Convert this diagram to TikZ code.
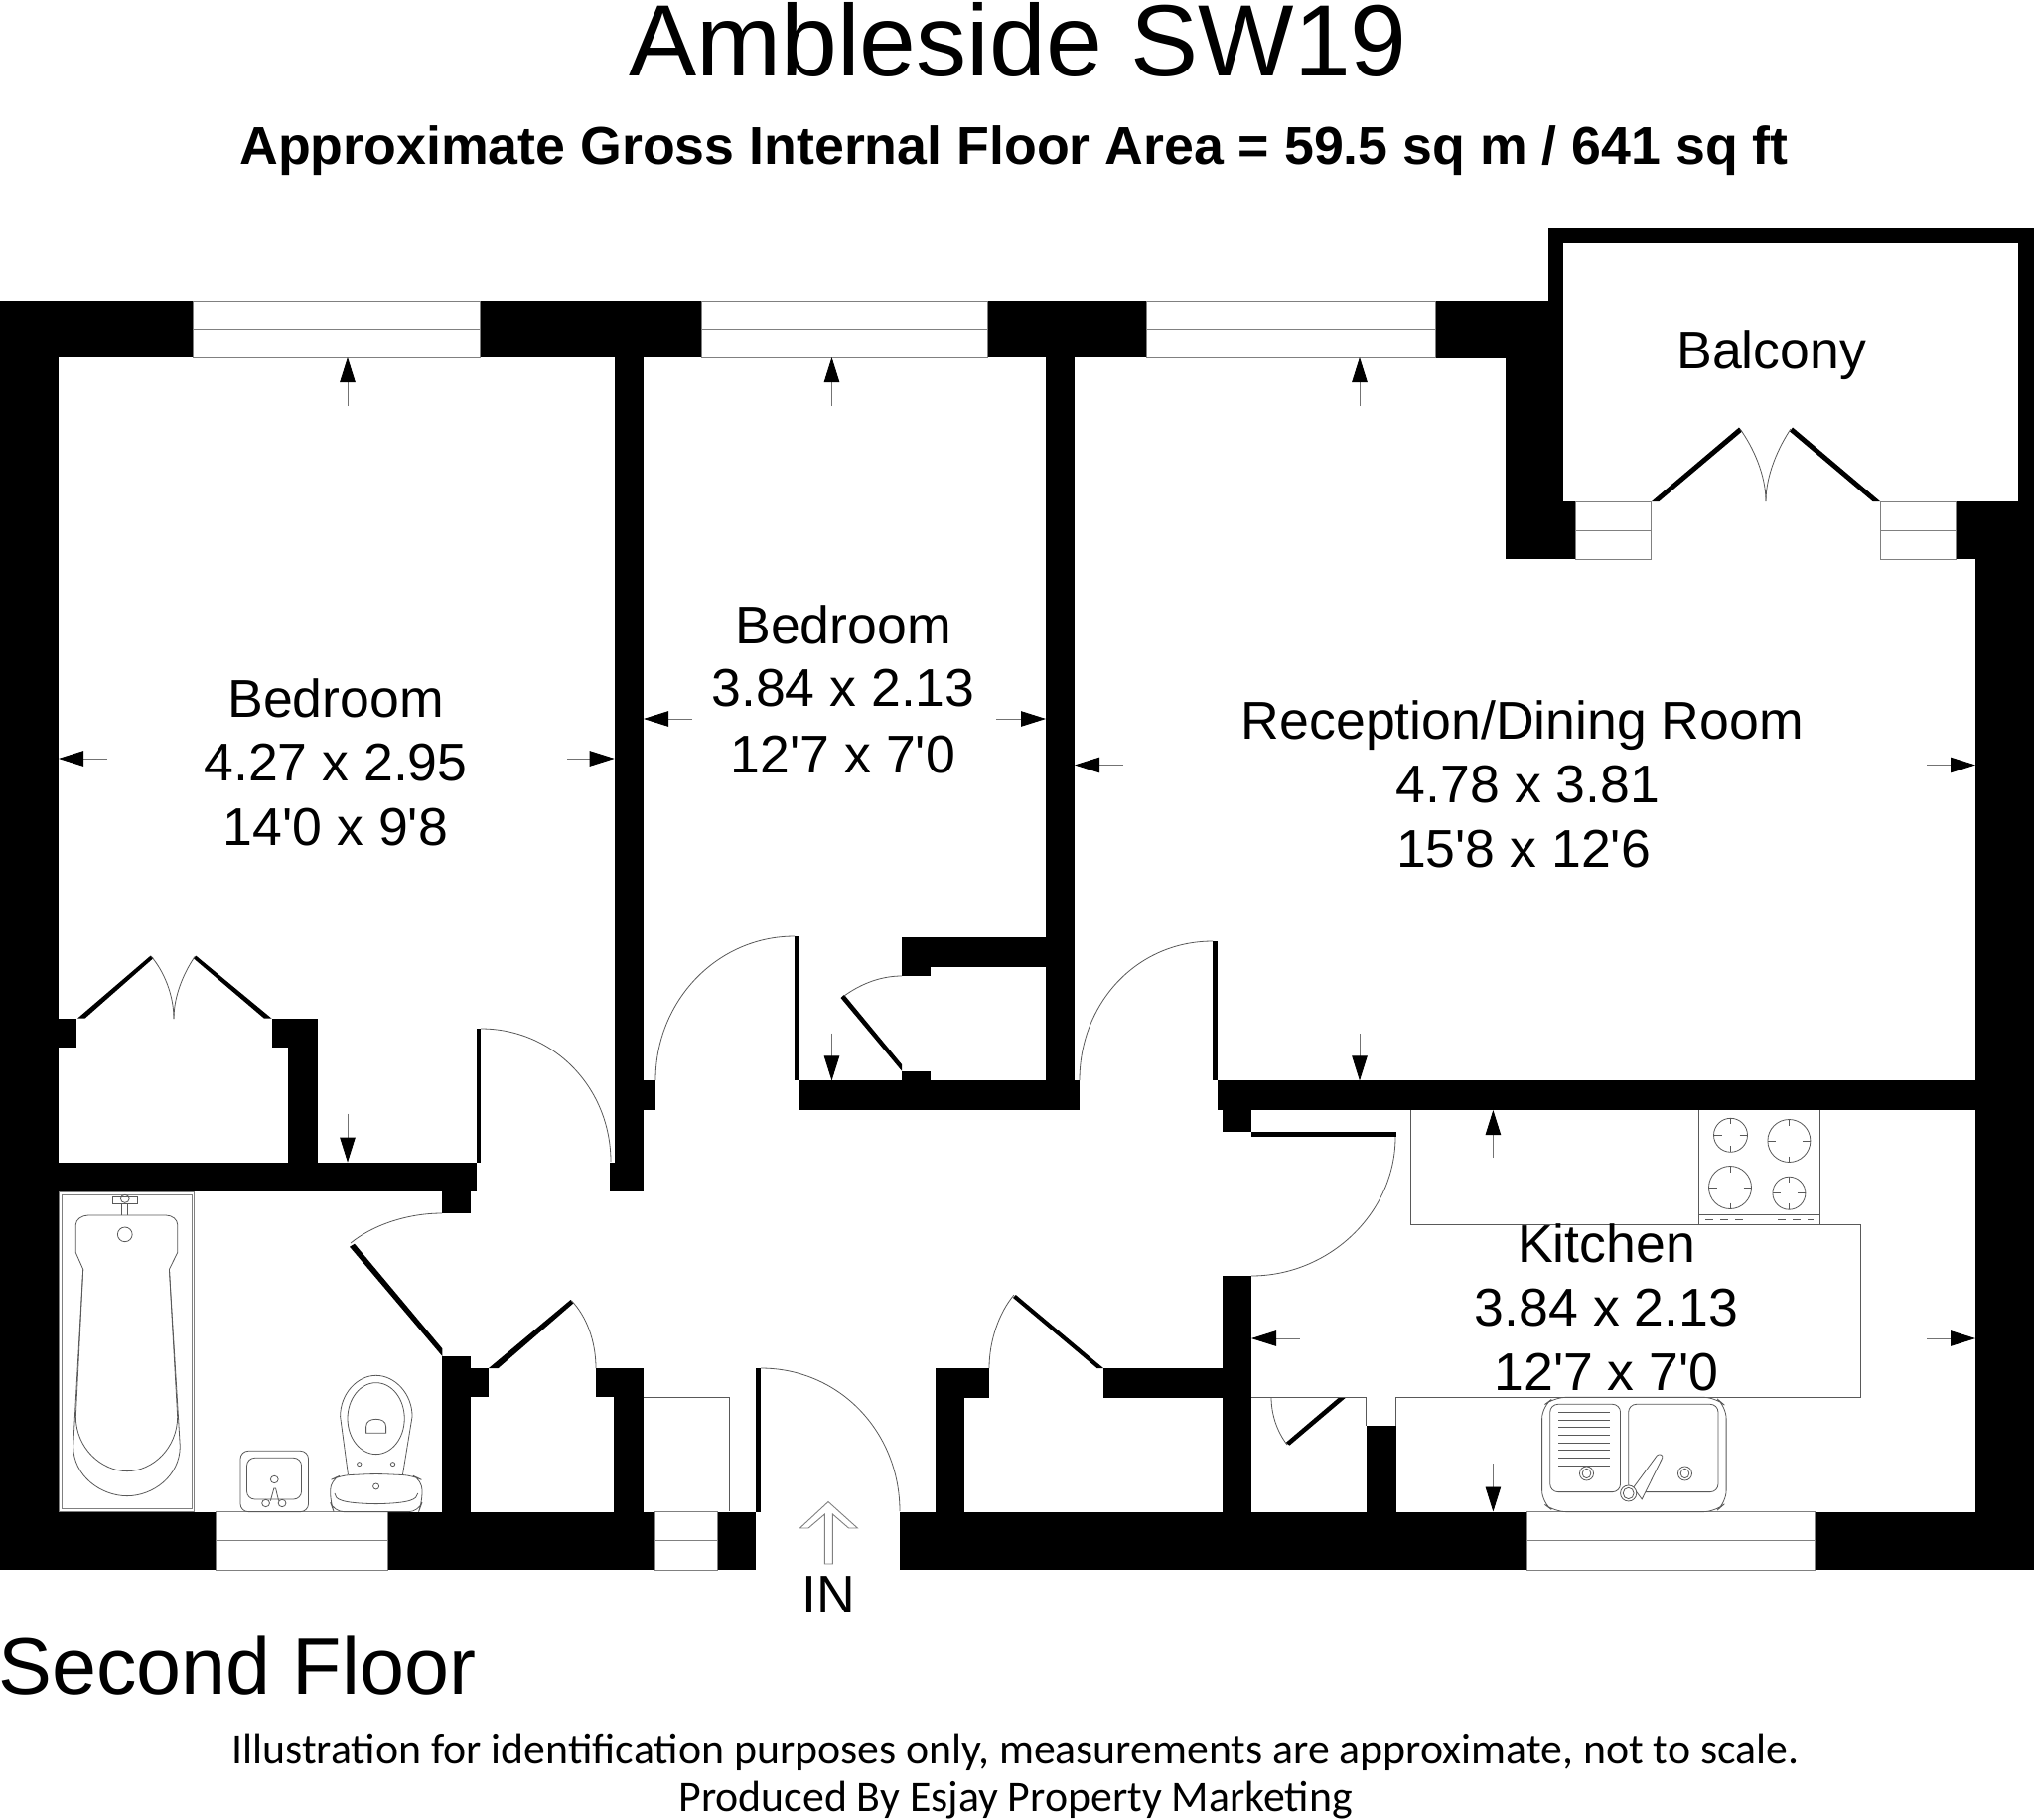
\documentclass[tikz,border=0pt]{standalone}
\usepackage{fontspec}
\setmainfont{Liberation Sans}[Ligatures=TeXOff]
\newfontfamily\notefont{Carlito}
\usetikzlibrary{arrows.meta}
\newcommand{\wl}[4]{\fill[black] (#1,#2) rectangle (#3,#4);}
\newcommand{\winrect}[5]{\draw[winline] (#1,#2) rectangle (#3,#4) (#1,#5) -- (#3,#5);}
\newcommand{\dimar}[4]{\draw[dimline] (#1,#2) -- (#3,#4);}
\newcommand{\lbl}[4][lblstyle]{\node[#1] (#2) at (#3) {#4};}
\tikzset{
  winline/.style={draw=black!50,line width=0.9pt},
  thinline/.style={draw=black!65,line width=0.8pt},
  dimline/.style={draw=black!55,line width=0.8pt,-{Triangle[length=25pt,width=15.5pt,fill=black,color=black]}},
  lblstyle/.style={anchor=base,inner sep=0pt,font=\fontsize{53.6}{60}\selectfont},
}
\begin{document}
\begin{tikzpicture}[x=1pt,y=-1pt]
\useasboundingbox (0,0) rectangle (2048,1833);
% outer walls
\wl{0}{303}{194}{360}\wl{483}{303}{706}{360}\wl{994}{303}{1154}{360}\wl{1445}{303}{1574}{361}
\wl{0}{303}{59}{1581}
\wl{0}{1522.5}{217}{1581}\wl{390}{1522.5}{659}{1581}\wl{722}{1522.5}{761}{1581}\wl{906}{1522.5}{1537.5}{1581}\wl{1827}{1522.5}{2048}{1581}
% balcony
\wl{1559}{230}{2048}{245}\wl{1559}{230}{1574}{505}\wl{2032}{230}{2048}{563}
\wl{1515.5}{303}{1574}{563}\wl{1574}{505}{1586.5}{563}
\wl{1969}{505}{2048}{563}\wl{1989}{563}{2048}{1581}
% internal walls
\wl{618.7}{360}{647.5}{1200}\wl{614}{1170.5}{647.5}{1200}\wl{647.5}{1088}{660}{1118}
\wl{1053}{360}{1082}{1118}\wl{804.5}{1088.4}{1087}{1118}
\wl{908}{944}{1053}{973.6}\wl{908}{973.6}{937}{983}\wl{908}{1078.6}{937}{1088.4}
\wl{1226}{1088.4}{1989}{1118}\wl{1231}{1118}{1260}{1140}
\wl{1231}{1285}{1260}{1522.5}\wl{1111}{1378}{1231}{1407.6}
\wl{942}{1378}{996}{1407.6}\wl{942}{1378}{970.5}{1522.5}
\wl{618.4}{1378}{647.5}{1522.5}\wl{600}{1378}{647.5}{1407}
\wl{445.4}{1366}{474}{1522.5}\wl{474}{1378}{492}{1407}
\wl{445.4}{1200}{474}{1221.6}\wl{59}{1170.6}{480}{1200}
\wl{59}{1025.7}{76.6}{1055}\wl{273.6}{1025.7}{320}{1055}\wl{290.4}{1025.7}{320}{1170.6}
\wl{1375.8}{1435.7}{1405.5}{1522.5}
% thin door leaves
\wl{800}{943}{805}{1088.4}\wl{1221.4}{948}{1226}{1088.4}\wl{761}{1378}{766}{1522.5}
\wl{479.6}{1036}{484.4}{1170.6}\wl{1260}{1140}{1405.5}{1145}
% windows
\winrect{194}{303}{483}{360}{331.5}\winrect{706}{303}{994}{360}{331.5}\winrect{1154}{303}{1445}{360}{331.5}
\winrect{217}{1522.5}{390}{1581}{1551.5}\winrect{659}{1522.5}{722}{1581}{1551.5}\winrect{1537.5}{1522.5}{1827}{1581}{1551.5}
\winrect{1586.5}{505}{1662}{563}{534}\winrect{1893.5}{505}{1969}{563}{534}
% door leaves
\fill[black] (1663,505) -- (1670.5,505) -- (1754,434.5) -- (1751,430.5) -- cycle;
\fill[black] (1893,505) -- (1885.5,505) -- (1802,434.5) -- (1805,430.5) -- cycle;
\fill[black] (78,1025.7) -- (85.5,1025.7) -- (154.5,965) -- (151.5,962.7) -- cycle;
\fill[black] (273.6,1025.7) -- (266,1025.7) -- (194.5,965) -- (197.4,962.7) -- cycle;
\fill[black] (908,1072) -- (908,1078.6) -- (846.5,1005) -- (850,1001.8) -- cycle;
\fill[black] (445.4,1358.3) -- (445.4,1366) -- (352,1255.7) -- (357,1252.7) -- cycle;
\fill[black] (492,1378) -- (501.7,1378) -- (577.6,1312.3) -- (574.6,1309) -- cycle;
\fill[black] (1104.5,1378) -- (1111,1378) -- (1022.8,1304) -- (1020,1307) -- cycle;
\fill[black] (1348.7,1407) -- (1355.8,1407) -- (1298.4,1455.7) -- (1294.6,1453) -- cycle;
% door swings
\draw[thinline] (484,1036) .. controls (558,1036) and (615,1096) .. (615,1170);
\draw[thinline] (800,943) .. controls (722,943) and (660,1008) .. (660,1088);
\draw[thinline] (1221,948) .. controls (1144,948) and (1087,1011) .. (1087,1088);
\draw[thinline] (1405,1145) .. controls (1405,1222) and (1338,1285) .. (1260,1285);
\draw[thinline] (766,1378) .. controls (845,1378) and (906,1442) .. (906,1522);
\draw[thinline] (353,1252) .. controls (375,1234) and (410,1222) .. (445,1222);
\draw[thinline] (152,963) .. controls (165,978) and (175,1002) .. (175,1026);
\draw[thinline] (196.5,963) .. controls (186,978) and (175,1002) .. (175,1026);
\draw[thinline] (1752,432) .. controls (1765,450) and (1778,478) .. (1778,505);
\draw[thinline] (1803,432) .. controls (1791,450) and (1778,478) .. (1778,505);
\draw[thinline] (575.5,1310) .. controls (590,1325) and (600,1350) .. (600,1378);
\draw[thinline] (1021,1304) .. controls (1006,1322) and (996,1350) .. (996,1378);
\draw[thinline] (850,1003) .. controls (868,990) and (888,983) .. (908,983);
\draw[thinline] (1280,1407) .. controls (1280,1425) and (1286,1442) .. (1296,1455);
% hall cupboard
\draw[thinline] (648,1407.6) -- (734,1407.6) -- (734,1522);
% kitchen units
\draw[thinline] (1420,1118) -- (1420,1233) -- (1873,1233) -- (1873,1407) -- (1405.5,1407) -- (1405.5,1435.7);
\draw[thinline] (1260,1407) -- (1375.8,1407) -- (1375.8,1435.7);
% hob
\draw[thinline] (1710.5,1118) -- (1710.5,1233) (1832.8,1118) -- (1832.8,1233) (1710.5,1223) -- (1832.8,1223);
\draw[thinline,dash pattern=on 8pt off 7pt] (1717,1228) -- (1756,1228) (1790,1228) -- (1826,1228);
\foreach \cx/\cy/\rr in {1742.5/1143.3/17,1801.4/1149/21.5,1742/1196/21.5,1801.4/1201.7/16.5}{
  \draw[thinline] (\cx,\cy) circle [radius=\rr];
  \draw[thinline] (\cx-\rr,\cy) -- ++(8,0) (\cx+\rr-8,\cy) -- ++(8,0) (\cx,\cy-\rr) -- ++(0,6) (\cx,\cy+\rr-6) -- ++(0,6);
}
% bath, basin, toilet (drawn in zoomed coordinates)
\begin{scope}[shift={(0,1150)},xscale=0.4337,yscale=0.3333]
\draw[winline] (136,151) rectangle (451,1118);
\draw[winline] (144,159) rectangle (445,1109);
\draw[thinline] (282,222) -- (282,188) (297,222) -- (297,188);
\draw[thinline] (261,166) rectangle (320,188);
\draw[thinline] (290,172) ellipse [x radius=10,y radius=12];
\draw[thinline] (176,335) -- (176,250) .. controls (176,235) and (190,222) .. (205,222) -- (385,222) .. controls (400,222) and (412,235) .. (412,250) -- (412,335) -- (393,385) -- (412,830) .. controls (412,925) and (355,995) .. (295,995) .. controls (235,995) and (176,925) .. (176,830) -- (193,385) -- cycle;
\draw[thinline] (193,385) -- (170,920) .. controls (170,1010) and (235,1070) .. (295,1070) .. controls (355,1070) and (418,1010) .. (418,920) -- (393,385);
\draw[thinline] (290,280) ellipse [x radius=17,y radius=22];
% basin
\draw[thinline,rounded corners=8pt] (558,1118) -- (558,934) -- (716,934) -- (716,1118) -- cycle;
\draw[thinline,rounded corners=8pt] (573,1080) -- (573,955) -- (700,955) -- (700,1080) -- cycle;
\draw[thinline] (637,1020) ellipse [x radius=9,y radius=11];
\draw[thinline] (628,1085) -- (636,1047) -- (640,1047) -- (647,1085);
\draw[thinline] (617,1092) ellipse [x radius=9,y radius=11];
\draw[thinline] (655,1092) ellipse [x radius=9,y radius=11];
% toilet
\draw[thinline] (808,1005) -- (790,830) .. controls (790,760) and (830,706) .. (873,706) .. controls (916,706) and (957,760) .. (957,830) -- (935,1005);
\draw[thinline] (873,836) ellipse [x radius=66,y radius=108];
\draw[thinline] (850,880) -- (850,860) .. controls (850,845) and (860,838) .. (873,838) .. controls (886,838) and (896,845) .. (896,860) -- (896,880) -- cycle;
\draw[thinline] (834,974) ellipse [x radius=5,y radius=6];
\draw[thinline] (912,974) ellipse [x radius=5,y radius=6];
\draw[thinline,rounded corners=10pt] (775,1118) -- (767,1090) -- (767,1022) -- (790,1008) -- (873,1003) -- (958,1008) -- (980,1022) -- (980,1090) -- (972,1118) -- cycle;
\draw[thinline] (873,1041) ellipse [x radius=7,y radius=9];
\draw[thinline] (777,1062) .. controls (778,1080) and (790,1092) .. (873,1094) .. controls (955,1092) and (968,1080) .. (970,1062);
\end{scope}
% sink
\begin{scope}[shift={(1200,1080)},xscale=0.5408,yscale=0.3333]
\draw[thinline,rounded corners=12pt] (675,1328) -- (652,1300) -- (652,1010) -- (675,982) -- (975,982) -- (995,1010) -- (995,1300) -- (975,1328) -- cycle;
\draw[thinline,rounded corners=8pt] (667,1268) -- (667,1003) -- (798,1003) -- (798,1268) -- cycle;
\draw[thinline,rounded corners=8pt] (813,1268) -- (813,1003) -- (980,1003) -- (980,1268) -- cycle;
\foreach \yy in {1027,1050,1073,1096,1119,1142,1165,1189}{\draw[thinline] (683,\yy) -- (778,\yy);}
\draw[thinline] (735,1212) ellipse [x radius=13,y radius=21];
\draw[thinline] (735,1212) ellipse [x radius=8,y radius=14];
\draw[thinline] (918,1212) ellipse [x radius=13,y radius=21];
\draw[thinline] (918,1212) ellipse [x radius=8,y radius=14];
\draw[thinline,fill=white] (822,1255) -- (866,1158) .. controls (870,1152) and (878,1155) .. (876,1165) -- (838,1290) -- cycle;
\draw[thinline,fill=white] (813,1272) ellipse [x radius=15,y radius=24];
\draw[thinline] (813,1272) ellipse [x radius=10,y radius=17];
\end{scope}
% dimension arrows
\dimar{350}{409}{350}{360}\dimar{837.5}{409}{837.5}{360}\dimar{1369}{409}{1369}{360}
\dimar{108}{764}{59}{764}\dimar{571}{764}{618.7}{764}
\dimar{697}{724}{648}{724}\dimar{1003}{724}{1053}{724}
\dimar{1131}{770.5}{1082}{770.5}\dimar{1940}{770.5}{1989}{770.5}
\dimar{1369}{1041}{1369}{1088.4}\dimar{837.5}{1040.6}{837.5}{1088.4}\dimar{350}{1121.7}{350}{1170.6}
\dimar{1503.4}{1166}{1503.4}{1118}\dimar{1503.4}{1474}{1503.4}{1522.5}
\dimar{1308.7}{1348}{1260}{1348}\dimar{1940}{1348}{1989}{1348}
% entrance arrow
\draw[winline] (834,1512.5) -- (805.4,1539) -- (814,1539) -- (830.4,1525) -- (830.4,1575) -- (838.4,1575) -- (838.4,1525) -- (854.5,1539) -- (863.4,1539) -- cycle;
% texts
\node[lblstyle,font=\fontsize{102.2}{110}\selectfont] (title) at (1025,77) {Ambleside SW19};
\node[lblstyle,font=\fontsize{53.7}{60}\selectfont\bfseries] (area) at (1021,165) {Approximate Gross Internal Floor Area = 59.5 sq m / 641 sq ft};
\lbl{bedA}{338,722.5}{Bedroom}\lbl{bedAm}{338,786.5}{4.27 x 2.95}\lbl{bedAf}{338,851.5}{14'0 x 9'8}
\lbl{bedB}{849,648}{Bedroom}\lbl{bedBm}{849,711}{3.84 x 2.13}\lbl{bedBf}{849,778}{12'7 x 7'0}
\lbl{rec}{1533,744.5}{Reception/Dining Room}\lbl{recm}{1538.5,808}{4.78 x 3.81}\lbl{recf}{1534,873}{15'8 x 12'6}
\lbl{kit}{1617.5,1271.7}{Kitchen}\lbl{kitm}{1617.5,1335.7}{3.84 x 2.13}\lbl{kitf}{1617.5,1400}{12'7 x 7'0}
\lbl{balc}{1783.6,371}{Balcony}
\lbl{inlabel}{834,1624}{IN}
\node[lblstyle,anchor=base west,font=\fontsize{80.9}{88}\selectfont] (floor) at (-2,1706) {Second Floor};
\node[lblstyle,font=\notefont\fontsize{43.8}{48}\selectfont] (noteA) at (1022.5,1776) {Illustration for identification purposes only, measurements are approximate, not to scale.};
\node[lblstyle,font=\notefont\fontsize{43.8}{48}\selectfont] (noteB) at (1022.5,1824) {Produced By Esjay Property Marketing};
\end{tikzpicture}
\end{document}
